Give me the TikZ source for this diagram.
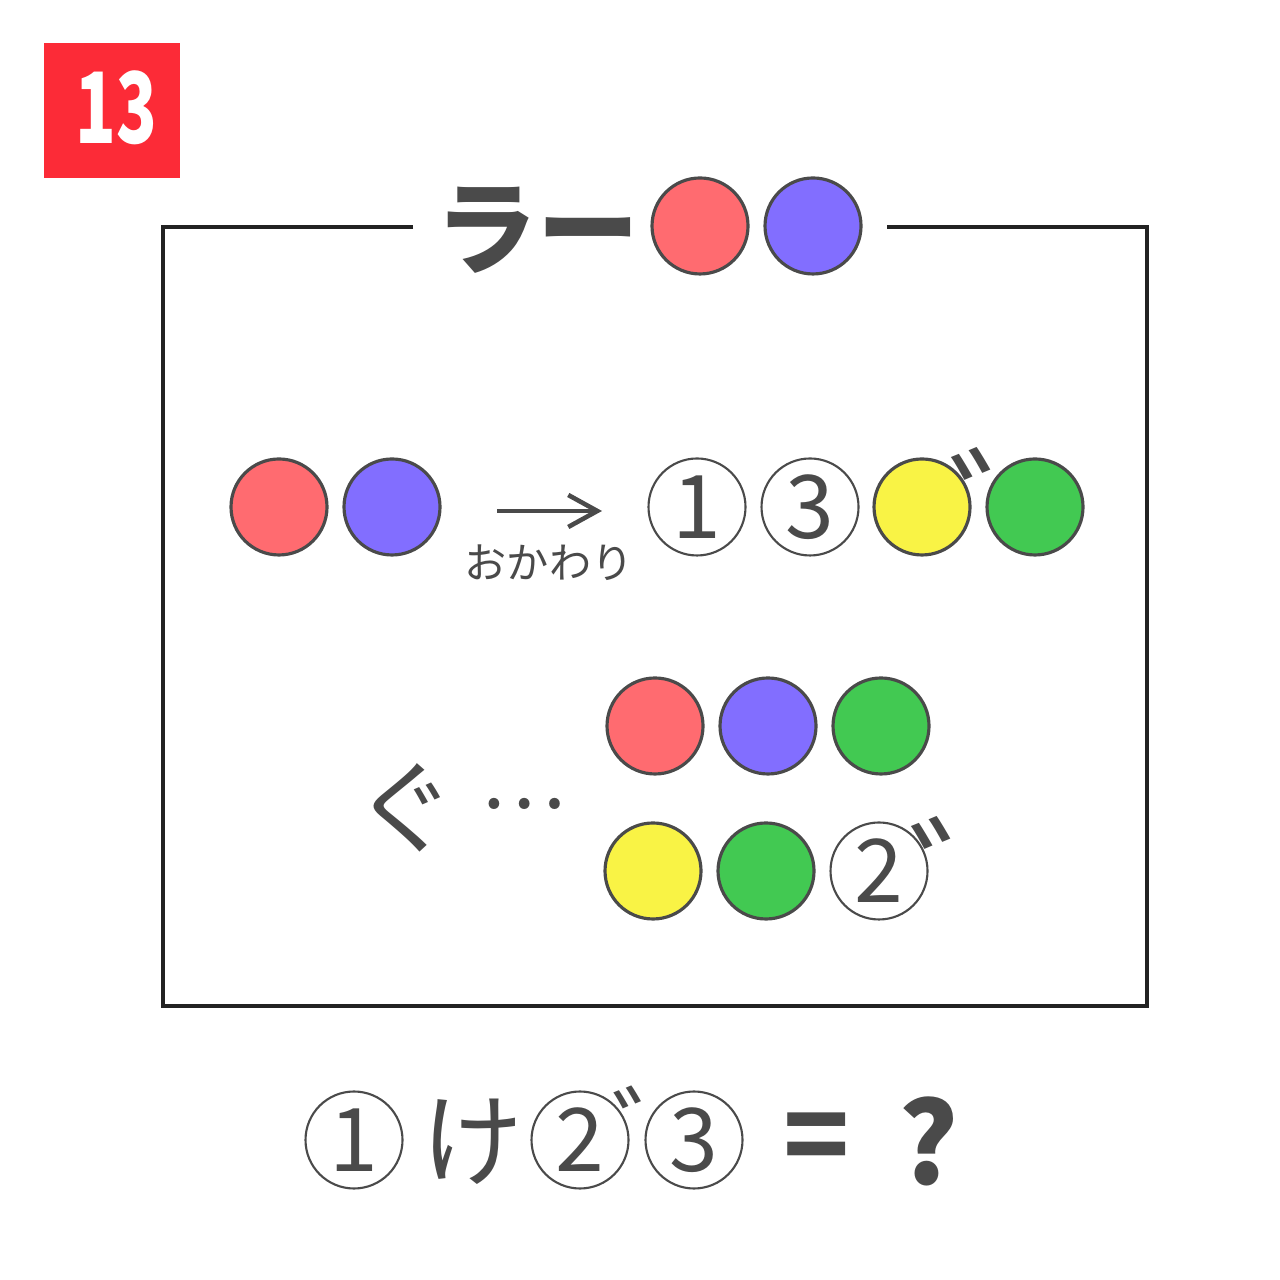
\documentclass[tikz,border=0pt]{standalone}
\usepackage{fontspec}
\setmainfont{Noto Sans CJK JP}
\usetikzlibrary{arrows.meta, positioning}
\definecolor{badgered}{HTML}{FC2B37}
\definecolor{pinkred}{HTML}{FF6B70}
\definecolor{violet}{HTML}{826EFF}
\definecolor{lemon}{HTML}{F9F345}
\definecolor{leaf}{HTML}{42C952}
\definecolor{ink}{HTML}{4A4A4A}
\definecolor{framegray}{HTML}{222222}

\tikzset{
  ball/.style={circle, draw=ink, line width=0.9pt, minimum size=0.96cm, inner sep=0pt},
  numring/.style={circle, draw=ink, fill=white, line width=0.6pt, minimum size=0.97cm, inner sep=0pt,
    text=ink, font=\fontsize{25}{25}\selectfont},
  bigtxt/.style={text=ink, inner sep=0pt, font=\fontsize{29}{29}\selectfont},
  mark2/.style={text=ink, inner sep=0pt, font=\fontsize{40}{40}\selectfont}
}

\begin{document}
\begin{tikzpicture}[>={Straight Barb[length=2.9mm, width=3.2mm]}]

% Canvas
\useasboundingbox (0,0) rectangle (12.8,12.8);
\fill[white] (0,0) rectangle (12.8,12.8);

% Badge
\node[fill=badgered, minimum width=1.36cm, minimum height=1.35cm, inner sep=0pt] (badge) at (1.12,11.695) {};
\node[text=white, inner sep=0pt, font=\fontsize{28}{28}\selectfont\bfseries, xscale=0.68] (badgenum) at (1.165,11.72) {13};

% Frame (gap on top for title)
\draw[framegray, line width=0.9pt] (4.13,10.53) -- (1.63,10.53) -- (1.63,2.74) -- (11.47,2.74) -- (11.47,10.53) -- (8.87,10.53);

% Title
\node[bigtxt, font=\fontsize{29}{29}\selectfont\bfseries] (title) at (5.37,10.50) {ラー};
\node[ball, fill=pinkred] (titleRed) at (7.00,10.54) {};
\node[ball, fill=violet] (titleBlue) at (8.13,10.54) {};

% Middle row
\node[ball, fill=pinkred] (midRed) at (2.79,7.73) {};
\node[ball, fill=violet] (midBlue) at (3.92,7.73) {};
\coordinate (arrS) at (4.97,7.69);
\coordinate (arrE) at (6.02,7.69);
\draw[ink, line width=1.3pt, ->] (arrS) -- (arrE);
\node[text=ink, inner sep=0pt, font=\fontsize{12}{12}\selectfont] (refill) at (5.49,7.17) {おかわり};
\node[numring] (midOne) at (6.97,7.73) {1};
\node[numring] (midThree) at (8.10,7.73) {3};
\node[ball, fill=lemon] (midYellow) at (9.22,7.73) {};
\node[mark2] (midDaku) at (10.20,7.74) {゛};
\node[ball, fill=leaf] (midGreen) at (10.35,7.73) {};

% Lower group
\node[bigtxt] (gu) at (4.05,4.72) {ぐ};
\node[bigtxt, font=\fontsize{23}{23}\selectfont] (dots) at (5.235,4.76) {…};
\node[ball, fill=pinkred] (lowRed) at (6.55,5.54) {};
\node[ball, fill=violet] (lowBlue) at (7.68,5.54) {};
\node[ball, fill=leaf] (lowGreen) at (8.81,5.54) {};
\node[ball, fill=lemon] (lowYellow) at (6.53,4.09) {};
\node[ball, fill=leaf] (lowGreenB) at (7.66,4.09) {};
\node[numring] (lowTwo) at (8.79,4.09) {2};
\node[mark2] (lowDaku) at (9.80,4.05) {゛};

% Question line
\node[numring] (qOne) at (3.54,1.40) {1};
\node[bigtxt] (qKe) at (4.72,1.38) {け};
\node[numring] (qTwo) at (5.80,1.40) {2};
\node[mark2, font=\fontsize{28}{28}\selectfont] (qDaku) at (6.62,1.53) {゛};
\node[numring] (qThree) at (6.94,1.40) {3};
\node[bigtxt, font=\fontsize{31}{31}\selectfont\bfseries] (qEq) at (8.17,1.36) {=};
\node[bigtxt, font=\fontsize{32}{32}\selectfont\bfseries] (qMark) at (9.29,1.39) {?};

\end{tikzpicture}
\end{document}
